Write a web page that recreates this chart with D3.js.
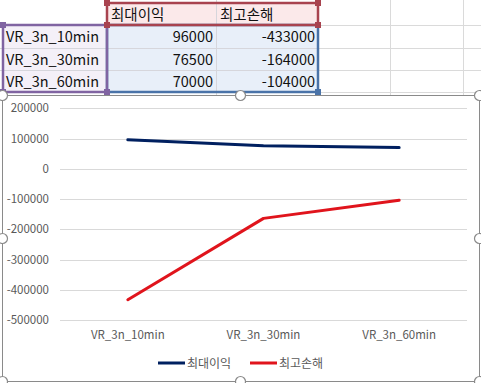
<!DOCTYPE html>
<html><head><meta charset="utf-8">
<script src="https://cdn.jsdelivr.net/npm/d3@7"></script>
<style>
html,body{margin:0;padding:0;background:#fff;}
svg text{font-family:"Noto Sans CJK KR","Noto Sans",sans-serif;}
</style></head>
<body>
<svg id="c" width="481" height="383"></svg>
<script>
const categories = ["VR_3n_10min","VR_3n_30min","VR_3n_60min"];
const seriesNames = ["최대이익","최고손해"];
const maxProfit = [96000, 76500, 70000];
const maxLoss = [-433000, -164000, -104000];
const yTicks = [200000,100000,0,-100000,-200000,-300000,-400000,-500000];
const colors = ["#002060","#e0141c"];

const svg = d3.select("#c");

// ---- spreadsheet part ----
const sheet = svg.append("g");
const colX = [3,107,216,318,390,463,481];
const rowY = [3,25,48,70,92];
// gridlines
[25,48,70,92].forEach(y=>sheet.append("line").attr("x1",0).attr("x2",481).attr("y1",y+0.5).attr("y2",y+0.5).attr("stroke","#dadada"));
[216,390,463].forEach(x=>sheet.append("line").attr("x1",x+0.5).attr("x2",x+0.5).attr("y1",0).attr("y2",95).attr("stroke","#dadada"));
// fills
sheet.append("rect").attr("x",107).attr("y",3).attr("width",211).attr("height",22).attr("fill","#fbe9ea");
sheet.append("rect").attr("x",3).attr("y",25).attr("width",104).attr("height",67).attr("fill","#f4f0f8");
sheet.append("rect").attr("x",107).attr("y",25).attr("width",211).attr("height",67).attr("fill","#e8eff9");
[48,70].forEach(y=>sheet.append("line").attr("x1",3).attr("x2",318).attr("y1",y+0.5).attr("y2",y+0.5).attr("stroke","#d6d6dc"));
sheet.append("line").attr("x1",216.5).attr("x2",216.5).attr("y1",3).attr("y2",92).attr("stroke","#d6d6dc");
// borders
const bc = {red:"#a8434f", purple:"#8064a2", blue:"#4a73a8"};
sheet.append("rect").attr("x",318-211).attr("y",25).attr("width",211).attr("height",67).attr("fill","none").attr("stroke",bc.blue).attr("stroke-width",2.5);
sheet.append("rect").attr("x",3).attr("y",25).attr("width",104).attr("height",67).attr("fill","none").attr("stroke",bc.purple).attr("stroke-width",2.5);
sheet.append("rect").attr("x",107).attr("y",3).attr("width",211).attr("height",22).attr("fill","none").attr("stroke",bc.red).attr("stroke-width",2.5);
[[107,3,bc.red],[318,3,bc.red],[107,25,bc.red],[318,25,bc.red],[3,25,bc.purple],[3,92,bc.purple],[107,92,bc.purple],[318,92,bc.blue]].forEach(([x,y,c])=>{
  sheet.append("rect").attr("x",x-3).attr("y",y-3).attr("width",6).attr("height",6).attr("fill",c);
});
// header texts
seriesNames.forEach((s,i)=>sheet.append("text").attr("x",colX[i+1]+4).attr("y",20).attr("font-size",14.5).attr("fill","#111").text(s));
categories.forEach((c,i)=>{
  const y = rowY[i+1]+17;
  sheet.append("text").attr("x",6).attr("y",y).attr("font-size",14.5).attr("fill","#111").text(c);
  sheet.append("text").attr("x",213).attr("y",y).attr("text-anchor","end").attr("font-size",14.5).attr("fill","#111").text(maxProfit[i]);
  sheet.append("text").attr("x",315).attr("y",y).attr("text-anchor","end").attr("font-size",14.5).attr("fill","#111").text(maxLoss[i]);
});

// ---- chart ----
const cx0=2, cy0=95, cx1=479, cy1=381;
svg.append("rect").attr("x",cx0+0.5).attr("y",cy0+0.5).attr("width",cx1-cx0).attr("height",cy1-cy0).attr("fill","#fff").attr("stroke","#8a8a8a");

const x = d3.scalePoint().domain(categories).range([60,467]).padding(0.5);
const y = d3.scaleLinear().domain([-500000,200000]).range([320,108.3]);

const g = svg.append("g");
yTicks.forEach(t=>{
  g.append("line").attr("x1",60).attr("x2",467).attr("y1",Math.round(y(t))+0.5).attr("y2",Math.round(y(t))+0.5).attr("stroke","#d9d9d9");
  g.append("text").attr("x",49).attr("y",y(t)+4).attr("text-anchor","end").attr("font-size",11.5).attr("fill","#595959").text(t);
});
categories.forEach(c=>{
  g.append("text").attr("x",x(c)).attr("y",339).attr("text-anchor","middle").attr("font-size",11.5).attr("fill","#595959").text(c);
});
const line = d3.line().x((d,i)=>x(categories[i])).y(d=>y(d));
[maxProfit,maxLoss].forEach((s,i)=>{
  g.append("path").attr("d",line(s)).attr("fill","none").attr("stroke",colors[i]).attr("stroke-width",3).attr("stroke-linejoin","round").attr("stroke-linecap","round");
});
// legend
const legX = [158,250];
seriesNames.forEach((s,i)=>{
  g.append("line").attr("x1",legX[i]).attr("x2",legX[i]+27).attr("y1",363).attr("y2",363).attr("stroke",colors[i]).attr("stroke-width",3);
  g.append("text").attr("x",legX[i]+29).attr("y",367.5).attr("font-size",12).attr("fill","#595959").text(s);
});
// handles
[[cx0,cy0],[240,cy0],[cx1,cy0],[cx0,238],[cx1,238],[cx0,cy1],[240,cy1],[cx1,cy1]].forEach(([hx,hy])=>{
  svg.append("circle").attr("cx",hx+0.5).attr("cy",hy+0.5).attr("r",5).attr("fill","#fff").attr("stroke","#8a8a8a").attr("stroke-width",1.2);
});
</script>
</body></html>
